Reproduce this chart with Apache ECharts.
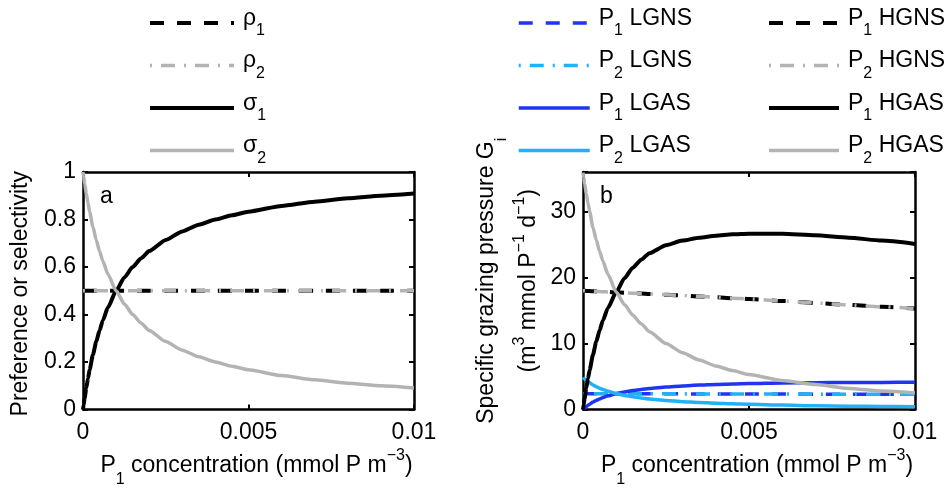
<!DOCTYPE html>
<html>
<head>
<meta charset="utf-8">
<script src="https://cdn.jsdelivr.net/npm/echarts@6/dist/echarts.min.js"></script>
<style>
  html, body { margin: 0; padding: 0; background: #fff; }
  #chart { width: 949px; height: 489px; }
</style>
</head>
<body>
<div id="chart"></div>
<script>
// P1 concentration grid (mmol P m^-3) shared by every curve
const xConc = [0, 0.00002, 0.00005, 0.0001, 0.00015, 0.0002, 0.0003, 0.0004, 0.0005, 0.0006, 0.00075,
  0.001, 0.00125, 0.0015, 0.00175, 0.002, 0.0025, 0.003, 0.0035, 0.004, 0.0045, 0.005,
  0.006, 0.007, 0.008, 0.009, 0.01];

// Panel a: preference (rho) and selectivity (sigma)
const rho1 = [0.5, 0.5, 0.5, 0.5, 0.5, 0.5, 0.5, 0.5, 0.5, 0.5, 0.5, 0.5, 0.5, 0.5,
  0.5, 0.5, 0.5, 0.5, 0.5, 0.5, 0.5, 0.5, 0.5, 0.5, 0.5, 0.5, 0.5];
const rho2 = [0.5, 0.5, 0.5, 0.5, 0.5, 0.5, 0.5, 0.5, 0.5, 0.5, 0.5, 0.5, 0.5, 0.5,
  0.5, 0.5, 0.5, 0.5, 0.5, 0.5, 0.5, 0.5, 0.5, 0.5, 0.5, 0.5, 0.5];
const sigma1 = [0, 0.020, 0.048, 0.091, 0.130, 0.167, 0.231, 0.286, 0.333, 0.375, 0.429,
  0.500, 0.556, 0.600, 0.636, 0.667, 0.714, 0.750, 0.778, 0.800, 0.818, 0.833,
  0.857, 0.875, 0.889, 0.900, 0.909];
const sigma2 = [1, 0.980, 0.952, 0.909, 0.870, 0.833, 0.769, 0.714, 0.667, 0.625, 0.571,
  0.500, 0.444, 0.400, 0.364, 0.333, 0.286, 0.250, 0.222, 0.200, 0.182, 0.167,
  0.143, 0.125, 0.111, 0.100, 0.091];

// Panel b: specific grazing pressure G_i (m^3 mmol P^-1 d^-1)
const p1LGNS = [2.4, 2.4, 2.4, 2.4, 2.4, 2.4, 2.4, 2.4, 2.4, 2.4, 2.4, 2.4, 2.39, 2.39,
  2.39, 2.38, 2.38, 2.37, 2.36, 2.36, 2.35, 2.35, 2.34, 2.33, 2.32, 2.31, 2.3];
const p2LGNS = [2.4, 2.4, 2.4, 2.4, 2.4, 2.4, 2.4, 2.4, 2.4, 2.4, 2.4, 2.4, 2.39, 2.39,
  2.39, 2.38, 2.38, 2.37, 2.36, 2.36, 2.35, 2.35, 2.34, 2.33, 2.32, 2.31, 2.3];
const p1LGAS = [0, 0.1, 0.23, 0.44, 0.63, 0.81, 1.12, 1.38, 1.61, 1.81, 2.07,
  2.41, 2.67, 2.88, 3.05, 3.19, 3.41, 3.57, 3.70, 3.79, 3.87, 3.93,
  4.02, 4.07, 4.10, 4.11, 4.13];
const p2LGAS = [4.85, 4.75, 4.62, 4.41, 4.22, 4.04, 3.73, 3.46, 3.23, 3.03, 2.77,
  2.41, 2.14, 1.92, 1.75, 1.6, 1.37, 1.19, 1.06, 0.95, 0.86, 0.79,
  0.67, 0.58, 0.51, 0.46, 0.41];
const p1HGNS = [18.0, 18.0, 18.0, 17.98, 17.97, 17.95, 17.93, 17.9, 17.88, 17.85, 17.82,
  17.75, 17.7, 17.64, 17.58, 17.52, 17.4, 17.27, 17.14, 17.01, 16.88, 16.75,
  16.45, 16.15, 15.85, 15.57, 15.3];
const p2HGNS = [18.0, 18.0, 18.0, 17.98, 17.97, 17.95, 17.93, 17.9, 17.88, 17.85, 17.82,
  17.75, 17.7, 17.64, 17.58, 17.52, 17.4, 17.27, 17.14, 17.01, 16.88, 16.75,
  16.45, 16.15, 15.85, 15.57, 15.3];
const p1HGAS = [0, 0.72, 1.73, 3.27, 4.68, 6.0, 8.3, 10.3, 12.0, 13.5, 15.4,
  17.8, 19.9, 21.5, 22.7, 23.7, 24.9, 25.6, 26.05, 26.35, 26.55, 26.65,
  26.65, 26.4, 26.05, 25.6, 25.1];
const p2HGAS = [35.9, 35.2, 34.2, 32.7, 31.3, 30.0, 27.6, 25.7, 24.0, 22.5, 20.5,
  17.8, 15.9, 14.3, 13.0, 11.8, 10.0, 8.6, 7.5, 6.6, 5.9, 5.3,
  4.4, 3.8, 3.2, 2.8, 2.5];

// Axis ticks
const xTicks = { min: 0, max: 0.01, interval: 0.005 };
const yTicksA = { min: 0, max: 1, interval: 0.2 };
const yTicksB = { min: 0, max: 36, interval: 10 };

const FONT = '"Liberation Sans", Arial, Helvetica, sans-serif';
const BLACK = '#000000';
const GRAY = '#b3b3b3';
const BLUE = '#1f35f2';
const CYAN = '#21b1f9';
const DASH = [14, 13];
const DASHDOT = [2, 9, 14, 9];

const pairs = (ys) => xConc.map((x, i) => [x, ys[i]]);

// Rich styles: main text, subscript, superscript
const axisRich = {
  t: { fontSize: 23, fontFamily: FONT, color: '#000', verticalAlign: 'top', padding: [8, 0, 0, 0] },
  s: { fontSize: 16, fontFamily: FONT, color: '#000', verticalAlign: 'top', padding: [26, 0, 0, 0] },
  p: { fontSize: 16, fontFamily: FONT, color: '#000', verticalAlign: 'top', padding: [2, 0, 0, 0] }
};
const legendRich = {
  t: { fontSize: 23, fontFamily: FONT, color: '#000', verticalAlign: 'top', padding: [0, 0, 0, 0] },
  s: { fontSize: 16, fontFamily: FONT, color: '#000', verticalAlign: 'top', padding: [16, 0, 0, 0] }
};

function legendLabel(name) {
  const m = name.match(/^(\D+?)(\d)(.*)$/);
  if (!m) return '{t|' + name + '}';
  return '{t|' + m[1] + '}{s|' + m[2] + '}' + (m[3] ? '{t|' + m[3] + '}' : '');
}

const xName = '{t|P}{s|1}{t| concentration (mmol P m}{p|−3}{t|)}';

function makeSeries(name, ys, color, width, dash, panel) {
  return {
    name: name,
    type: 'line',
    xAxisIndex: panel * 2,
    yAxisIndex: panel * 2,
    data: pairs(ys),
    symbol: 'none',
    smooth: 0.2,
    smoothMonotone: 'x',
    lineStyle: { color: color, width: width, type: dash || 'solid', cap: 'butt' },
    itemStyle: { color: color },
    emphasis: { disabled: true },
    silent: true
  };
}

function xAxisPair(gridIndex) {
  const base = {
    type: 'value', gridIndex: gridIndex,
    min: xTicks.min, max: xTicks.max, interval: xTicks.interval,
    splitLine: { show: false },
    axisLine: { show: true, onZero: false, lineStyle: { color: '#000', width: 2.5 } },
    axisTick: { show: true, inside: true, length: 5, lineStyle: { color: '#000', width: 2 } }
  };
  return [
    Object.assign({}, base, {
      position: 'bottom',
      axisLabel: { show: true, margin: 12, fontSize: 23, fontFamily: FONT, color: '#000' },
      name: xName,
      nameLocation: 'middle',
      nameGap: 36.5,
      nameTextStyle: { fontSize: 23, fontFamily: FONT, color: '#000', rich: axisRich, padding: [0, 0, 0, 16] }
    }),
    Object.assign({}, base, { position: 'top', axisLabel: { show: false } })
  ];
}

function yAxisPair(gridIndex, ticks, name, nameGap, namePadding, labelFmt) {
  const base = {
    type: 'value', gridIndex: gridIndex,
    min: ticks.min, max: ticks.max, interval: ticks.interval,
    splitLine: { show: false },
    axisLine: { show: true, onZero: false, lineStyle: { color: '#000', width: 2.5 } },
    axisTick: { show: true, inside: true, length: 5, lineStyle: { color: '#000', width: 2 } }
  };
  return [
    Object.assign({}, base, {
      position: 'left',
      axisLabel: { show: true, margin: 7, fontSize: 23, fontFamily: FONT, color: '#000', formatter: labelFmt },
      name: name,
      nameLocation: 'middle',
      nameGap: nameGap,
      nameTextStyle: { fontSize: 23, fontFamily: FONT, color: '#000', rich: axisRich, padding: namePadding }
    }),
    Object.assign({}, base, { position: 'right', axisLabel: { show: false } })
  ];
}

const legendCommon = {
  orient: 'vertical',
  itemHeight: 14,
  itemGap: 10.5,
  top: 7,
  padding: 0,
  selectedMode: false,
  itemStyle: { opacity: 0 },
  lineStyle: { width: 'inherit', type: 'inherit', cap: 'butt' },
  formatter: legendLabel,
  textStyle: { fontSize: 23, fontFamily: FONT, color: '#000', rich: legendRich, padding: [0, 0, 0, 4] }
};

const option = {
  backgroundColor: '#ffffff',
  animation: false,
  grid: [
    { left: 83, top: 172, width: 331, height: 238 },
    { left: 583, top: 172, width: 332, height: 239 }
  ],
  xAxis: [].concat(xAxisPair(0), xAxisPair(1)),
  yAxis: [].concat(
    yAxisPair(0, yTicksA, 'Preference or selectivity', 50.5, [0, 6, 0, 0], null),
    yAxisPair(1, yTicksB, '{t|Specific grazing pressure G}{s|i}\n{t|(m}{p|3}{t| mmol P}{p|−1}{t| d}{p|−1}{t|)}', 42.5, [0, 0, 0, 20],
      (v) => (v % 10 === 0 ? String(v) : ''))
  ),
  legend: [
    Object.assign({}, legendCommon, { left: 148, itemWidth: 84, data: ['ρ1', 'ρ2', 'σ1', 'σ2'] }),
    Object.assign({}, legendCommon, { left: 517, itemWidth: 71, data: ['P1 LGNS', 'P2 LGNS', 'P1 LGAS', 'P2 LGAS'] }),
    Object.assign({}, legendCommon, { left: 767, itemWidth: 70, data: ['P1 HGNS', 'P2 HGNS', 'P1 HGAS', 'P2 HGAS'] })
  ],
  graphic: [
    { type: 'text', x: 100, y: 197, silent: true,
      style: { text: 'a', fontSize: 23, fontFamily: FONT, fill: '#000', align: 'left', verticalAlign: 'middle' } },
    { type: 'text', x: 600, y: 197, silent: true,
      style: { text: 'b', fontSize: 23, fontFamily: FONT, fill: '#000', align: 'left', verticalAlign: 'middle' } }
  ],
  series: [
    makeSeries('ρ1', rho1, BLACK, 4, DASH, 0),
    makeSeries('ρ2', rho2, GRAY, 3.5, DASHDOT, 0),
    makeSeries('σ1', sigma1, BLACK, 4, null, 0),
    makeSeries('σ2', sigma2, GRAY, 3.5, null, 0),
    makeSeries('P1 LGNS', p1LGNS, BLUE, 3.5, DASH, 1),
    makeSeries('P2 LGNS', p2LGNS, CYAN, 3.5, DASHDOT, 1),
    makeSeries('P1 LGAS', p1LGAS, BLUE, 3.5, null, 1),
    makeSeries('P2 LGAS', p2LGAS, CYAN, 3.5, null, 1),
    makeSeries('P1 HGNS', p1HGNS, BLACK, 4, DASH, 1),
    makeSeries('P2 HGNS', p2HGNS, GRAY, 3.5, DASHDOT, 1),
    makeSeries('P1 HGAS', p1HGAS, BLACK, 4, null, 1),
    makeSeries('P2 HGAS', p2HGAS, GRAY, 3.5, null, 1)
  ]
};

const chart = echarts.init(document.getElementById('chart'), null, { renderer: 'canvas' });
chart.setOption(option);
</script>
</body>
</html>
